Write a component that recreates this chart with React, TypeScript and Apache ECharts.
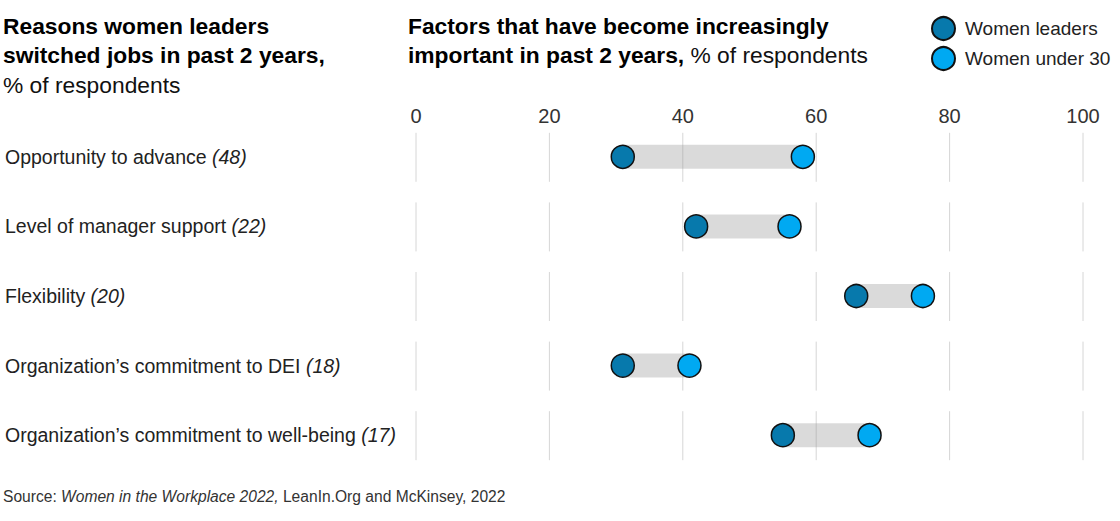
import React, { useEffect, useRef } from "react";
import * as echarts from "echarts";

const categories = [
  "Opportunity to advance",
  "Level of manager support",
  "Flexibility",
  "Organization’s commitment to DEI",
  "Organization’s commitment to well-being",
];
const switchedPct = [48, 22, 20, 18, 17];
const womenLeaders = [31, 42, 66, 31, 55];
const womenUnder30 = [58, 56, 76, 41, 68];
const xTicks = [0, 20, 40, 60, 80, 100];

const FONT = "'Liberation Sans', Arial, sans-serif";
const C_LEADERS = "#0779AC";
const C_UNDER30 = "#00A9F2";

export default function App() {
  const ref = useRef<HTMLDivElement>(null);
  useEffect(() => {
    const chart = echarts.init(ref.current!, null, { renderer: "svg" });
    const option: any = {
      animation: false,
      textStyle: { fontFamily: FONT },
      grid: { left: 416, right: 37, top: 122, bottom: 51 },
      legend: {
        orient: "vertical",
        left: 931,
        top: 16,
        itemWidth: 23,
        itemHeight: 23,
        itemGap: 5,
        padding: 0,
        icon: "circle",
        textStyle: { fontSize: 19, color: "#222", fontFamily: FONT, padding: [0, 0, 0, 5] },
        data: ["Women leaders", "Women under 30"],
      },
      xAxis: {
        type: "value",
        position: "top",
        min: 0,
        max: 100,
        interval: 20,
        axisLine: { show: false },
        axisTick: { show: false },
        splitLine: { show: false },
        axisLabel: { fontSize: 20, color: "#333", margin: -4, fontFamily: FONT },
      },
      yAxis: {
        type: "category",
        inverse: true,
        data: categories,
        axisLine: { show: false },
        axisTick: { show: false },
        axisLabel: {
          align: "left",
          margin: 411,
          formatter: (v: string) => {
            const i = categories.indexOf(v);
            return `{n|${v}\u00a0}{i|(${switchedPct[i]})}`;
          },
          rich: {
            n: { fontSize: 19.5, color: "#222", fontFamily: FONT },
            i: { fontSize: 19.5, color: "#222", fontStyle: "italic", fontFamily: FONT },
          },
        },
      },
      graphic: [
        {
          type: "text",
          left: 3,
          top: 14,
          style: {
            text: "{b|Reasons women leaders}\n{b|switched jobs in past 2 years,}\n{r|% of respondents}",
            rich: {
              b: { fontSize: 22.8, fontWeight: "bold", fill: "#000", lineHeight: 29.5, fontFamily: FONT },
              r: { fontSize: 22.8, fill: "#111", lineHeight: 29.5, fontFamily: FONT },
            },
          },
        },
        {
          type: "text",
          left: 408,
          top: 14,
          style: {
            text: "{b|Factors that have become increasingly}\n{b|important in past 2 years,}{r|\u00a0% of respondents}",
            rich: {
              b: { fontSize: 22.8, fontWeight: "bold", fill: "#000", lineHeight: 29.5, fontFamily: FONT },
              r: { fontSize: 22.8, fill: "#111", lineHeight: 29.5, fontFamily: FONT },
            },
          },
        },
        {
          type: "text",
          left: 3,
          top: 488,
          style: {
            text: "{r|Source:\u00a0}{i|Women in the Workplace 2022,}{r|\u00a0LeanIn.Org and McKinsey, 2022}",
            rich: {
              r: { fontSize: 15.6, fill: "#333", fontFamily: FONT },
              i: { fontSize: 15.6, fill: "#333", fontStyle: "italic", fontFamily: FONT },
            },
          },
        },
      ],
      series: [
        {
          type: "custom",
          name: "grid",
          silent: true,
          z: 1,
          data: categories.map((_, i) => [i]),
          encode: { y: 0 },
          renderItem: (params: any, api: any) => {
            const idx = api.value(0);
            const children = xTicks.map((t) => {
              const p = api.coord([t, idx]);
              return {
                type: "line",
                shape: { x1: p[0], y1: p[1] - 24, x2: p[0], y2: p[1] + 25 },
                style: { stroke: "#d6d6d6", lineWidth: 1 },
              };
            });
            return { type: "group", children };
          },
        },
        {
          type: "custom",
          name: "range",
          silent: true,
          z: 2,
          data: categories.map((_, i) => [womenLeaders[i], womenUnder30[i], i]),
          encode: { x: [0, 1], y: 2 },
          renderItem: (params: any, api: any) => {
            const a = api.coord([api.value(0), api.value(2)]);
            const b = api.coord([api.value(1), api.value(2)]);
            return {
              type: "rect",
              shape: { x: a[0], y: a[1] - 12, width: b[0] - a[0], height: 24 },
              style: { fill: "rgba(150,150,150,0.35)" },
            };
          },
        },
        {
          type: "scatter",
          name: "Women leaders",
          z: 3,
          symbol: "circle",
          symbolSize: 23,
          data: womenLeaders.map((v, i) => [v, i]),
          itemStyle: { color: C_LEADERS, borderColor: "#111", borderWidth: 1.5, opacity: 1 },
        },
        {
          type: "scatter",
          name: "Women under 30",
          z: 3,
          symbol: "circle",
          symbolSize: 23,
          data: womenUnder30.map((v, i) => [v, i]),
          itemStyle: { color: C_UNDER30, borderColor: "#111", borderWidth: 1.5, opacity: 1 },
        },
      ],
    };
    chart.setOption(option);
    return () => chart.dispose();
  }, []);
  return (
    <div
      ref={ref}
      style={{ position: "absolute", left: 0, top: 0, width: 1120, height: 521 }}
    />
  );
}
